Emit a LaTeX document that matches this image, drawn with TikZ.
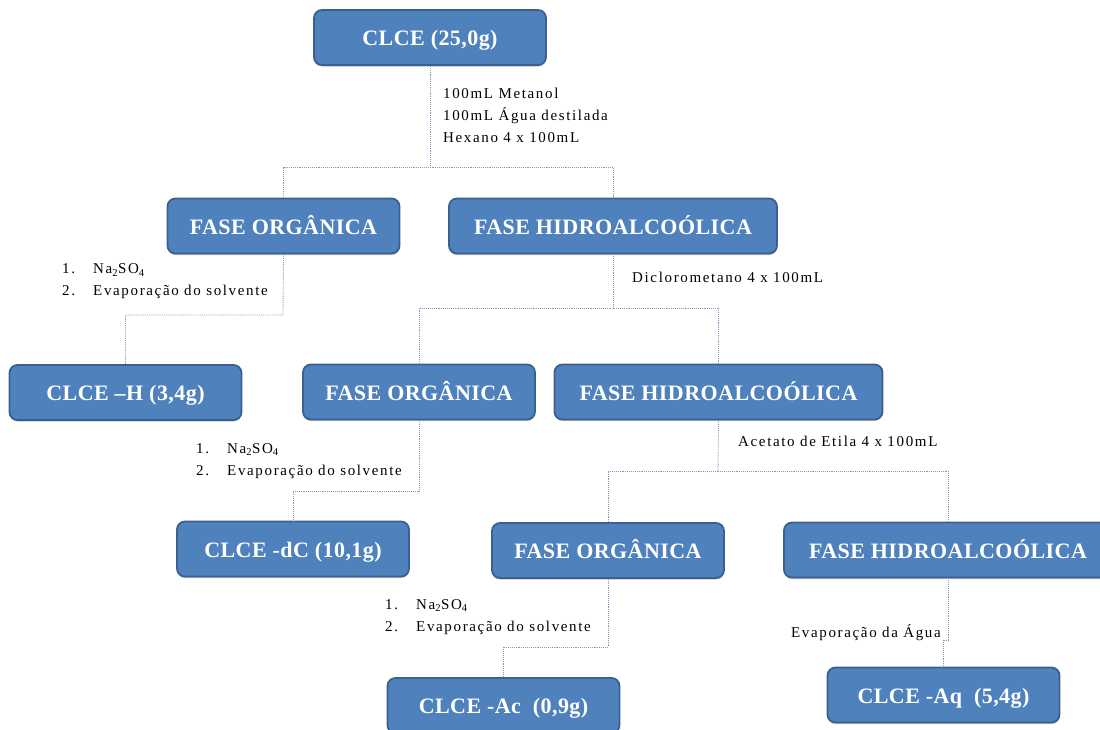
\documentclass[tikz,border=0pt]{standalone}
\usepackage{fontspec}
\setmainfont{Liberation Serif}
\newfontfamily\notefont[LetterSpace=11]{Liberation Serif}
\newfontfamily\boxfont[LetterSpace=2]{Liberation Serif}
\usetikzlibrary{shadows}
\definecolor{boxfill}{HTML}{4F81BD}
\definecolor{boxedge}{HTML}{3A6090}
\definecolor{linkcol}{HTML}{7F9BC2}
\tikzset{
  stage/.style={rounded corners=8pt, fill=boxfill, draw=boxedge, line width=1.8pt,
    text=white, font=\boxfont\bfseries\fontsize{22}{26}\selectfont,
    minimum height=55pt, minimum width=232pt, inner sep=0pt,
    text height=20pt, text depth=3.5pt,
    drop shadow={shadow xshift=0pt, shadow yshift=-1.5pt, opacity=0.25, fill=black}},
  widestage/.style={stage, minimum width=328pt},
  link/.style={draw=linkcol, line width=0.9pt, densely dotted},
  note/.style={font=\notefont\fontsize{15}{22}\selectfont, align=left, inner sep=0pt, text=black}
}
\newcommand{\stepnum}[1]{\makebox[31pt][l]{#1}}
\begin{document}
\begin{tikzpicture}[x=1pt, y=-1pt]
\useasboundingbox (0,0) rectangle (1100,729);
\clip (0,0) rectangle (1100,729);

% extraction stages
\node[stage] (crude) at (430,37.5) {CLCE (25,0g)};
\node[stage] (org1) at (283.5,226) {FASE ORGÂNICA};
\node[widestage] (hyd1) at (613,226) {FASE HIDROALCOÓLICA};
\node[stage] (hex) at (125.5,392.5) {CLCE –H (3,4g)};
\node[stage] (org2) at (419,392) {FASE ORGÂNICA};
\node[widestage] (hyd2) at (718.5,392) {FASE HIDROALCOÓLICA};
\node[stage] (dcm) at (293,549) {CLCE -dC (10,1g)};
\node[stage] (org3) at (608,550.5) {FASE ORGÂNICA};
\node[widestage] (hyd3) at (948,550) {FASE HIDROALCOÓLICA};
\node[stage] (acet) at (503.5,705.5) {CLCE -Ac\ \ (0,9g)};
\node[stage] (aq) at (943.5,695) {CLCE -Aq\ \ (5,4g)};

% junction points of the connectors
\coordinate (j1) at (430,167);
\coordinate (j2) at (283,315);
\coordinate (j3) at (613,308);
\coordinate (j4) at (419,491);
\coordinate (j5) at (718,471);
\coordinate (j6) at (608,647);
\coordinate (j7) at (948,640);

% connectors
\draw[link] (crude.south) -- (j1);
\draw[link] (org1.north) |- (j1) -| (hyd1.north);
\draw[link] (org1.south) -- (j2) -| (hex.north);
\draw[link] (hyd1.south) -- (j3);
\draw[link] (org2.north) |- (j3) -| (hyd2.north);
\draw[link] (org2.south) -- (j4) -| (dcm.north);
\draw[link] (hyd2.south) -- (j5);
\draw[link] (org3.north) |- (j5) -| (hyd3.north);
\draw[link] (org3.south) -- (j6) -| (acet.north);
\draw[link] (hyd3.south) -- (j7) -| (aq.north);

% reagents and steps
\node[note, anchor=west] (solv) at (443,115)
  {100mL Metanol\\100mL Água destilada\\Hexano 4 x 100mL};
\node[note, anchor=west] (dry1) at (62,281.5)
  {\stepnum{1.}Na\textsubscript{2}SO\textsubscript{4}\\\stepnum{2.}Evaporação do solvente};
\node[note, anchor=west] (dicl) at (632,277) {Diclorometano 4 x 100mL};
\node[note, anchor=west] (dry2) at (196,461)
  {\stepnum{1.}Na\textsubscript{2}SO\textsubscript{4}\\\stepnum{2.}Evaporação do solvente};
\node[note, anchor=west] (etac) at (738,441) {Acetato de Etila 4 x 100mL};
\node[note, anchor=west] (dry3) at (385,617)
  {\stepnum{1.}Na\textsubscript{2}SO\textsubscript{4}\\\stepnum{2.}Evaporação do solvente};
\node[note, anchor=east] (evap) at (941,633) {Evaporação da Água};
\end{tikzpicture}
\end{document}
